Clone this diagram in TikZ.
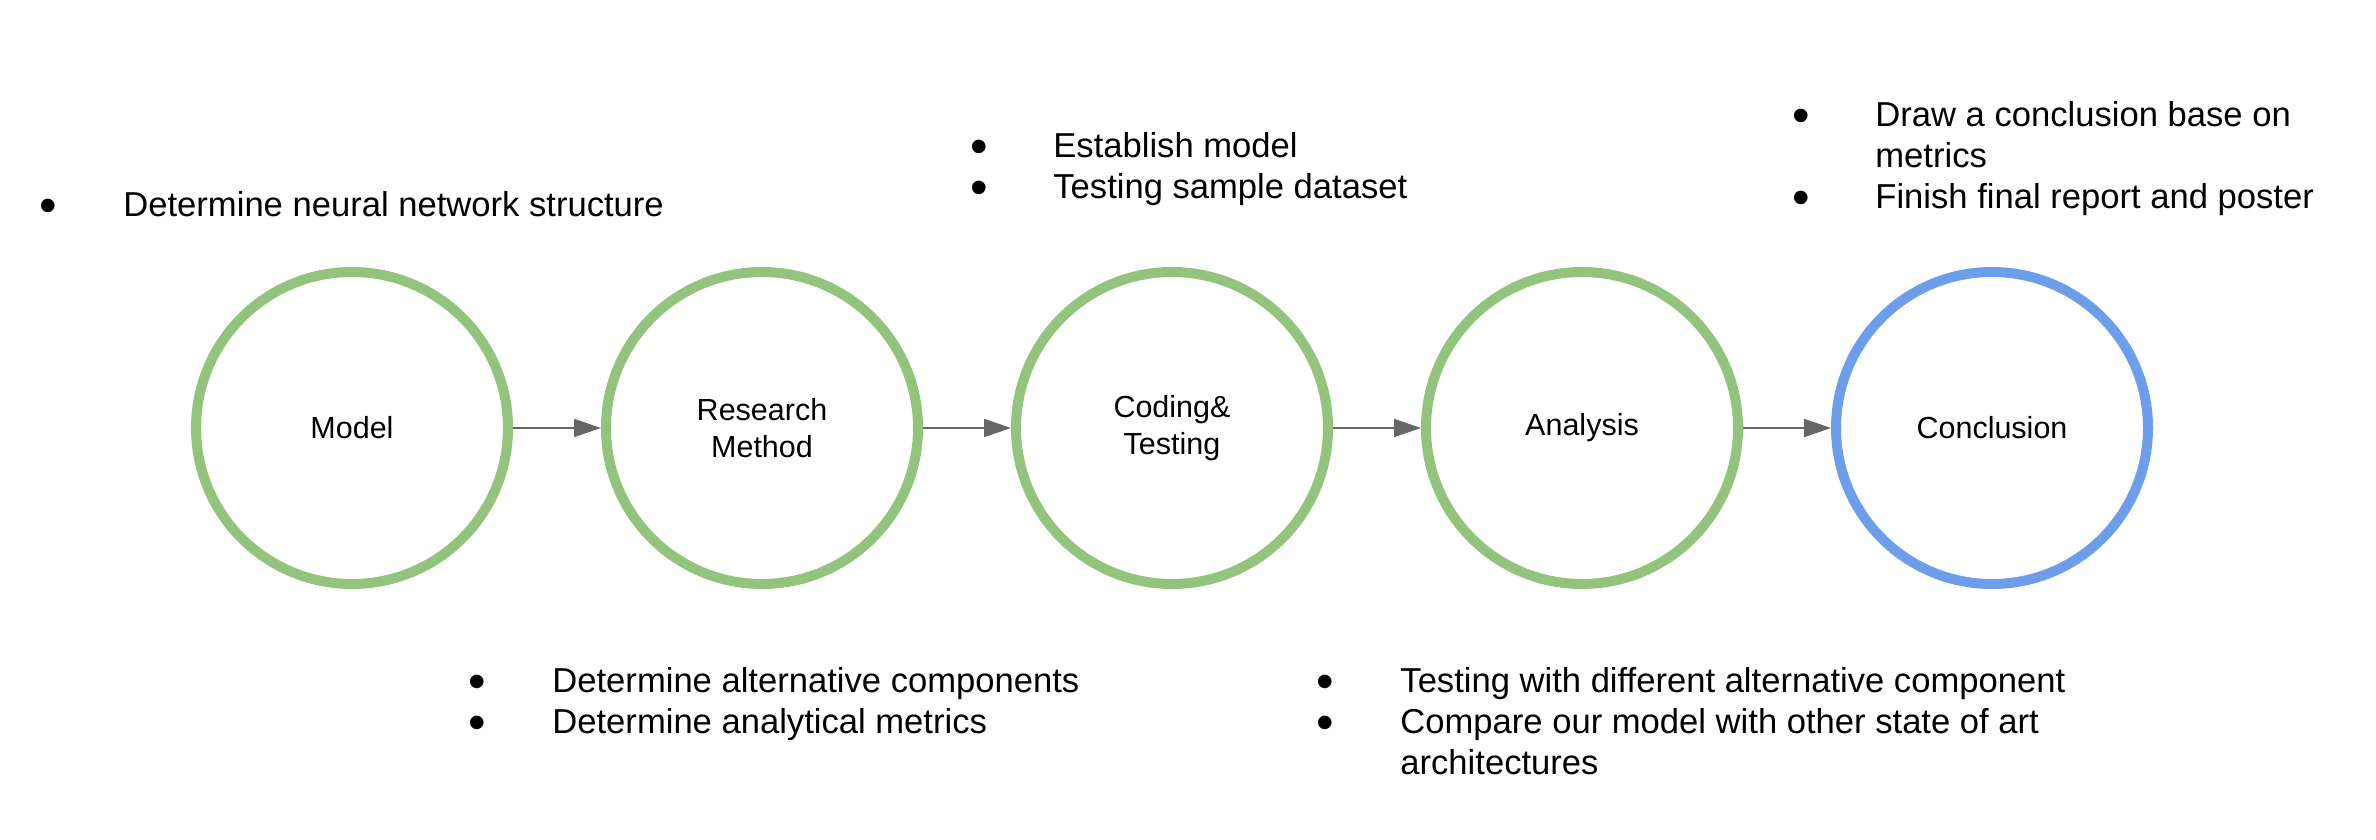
\documentclass[tikz,border=0pt]{standalone}
\usepackage{fontspec}
\setmainfont{Liberation Sans}
\usetikzlibrary{arrows.meta,positioning}
\definecolor{stagegreen}{HTML}{93C47D}
\definecolor{stageblue}{HTML}{6D9EEB}
\definecolor{arrgray}{HTML}{666666}
\newcommand{\bul}{\makebox[0pt]{\smash{\fontsize{25}{25}\selectfont\raisebox{-2.8pt}{\textbullet}}}}

\begin{document}
\begin{tikzpicture}[
  x=0.5pt,y=0.5pt,
  stage/.style={circle,draw=stagegreen,line width=5pt,minimum size=156pt,inner sep=0pt,align=center,font=\fontsize{15.25}{18.5}\selectfont},
  note/.style={anchor=base west,inner sep=0pt,font=\fontsize{17.3}{20.5}\selectfont},
  arr/.style={-{Triangle[length=13.5pt,width=9pt]},line width=1pt,draw=arrgray}
]
\useasboundingbox (0,0) rectangle (2376,840);
\node[stage] (model) at (352,412) {Model};
\node[stage, right=44pt of model] (research) {Research\\Method};
\node[stage, right=44pt of research] (coding) {Coding\&\\Testing};
\node[stage, right=44pt of coding] (analysis) {Analysis};
\node[stage, draw=stageblue, right=44pt of analysis] (conclusion) {Conclusion};
\draw[arr] (model)--(research);
\draw[arr] (research)--(coding);
\draw[arr] (coding)--(analysis);
\draw[arr] (analysis)--(conclusion);
% notes above and below the stages
\node[note] (modelnote) at (48,623) {\begin{tabular}[t]{@{}l@{\hspace{37.5pt}}l@{}}
  \bul & Determine neural network structure\end{tabular}};
\node[note] (codingnote) at (979,682) {\begin{tabular}[t]{@{}l@{\hspace{37pt}}l@{}}
  \bul & Establish model\\ \bul & Testing sample dataset\end{tabular}};
\node[note] (conclusionnote) at (1801,713) {\begin{tabular}[t]{@{}l@{\hspace{37pt}}l@{}}
  \bul & Draw a conclusion base on\\ & metrics\\ \bul & Finish final report and poster\end{tabular}};
\node[note] (researchnote) at (477,147) {\begin{tabular}[t]{@{}l@{\hspace{37.5pt}}l@{}}
  \bul & Determine alternative components\\ \bul & Determine analytical metrics\end{tabular}};
\node[note] (analysisnote) at (1325,147) {\begin{tabular}[t]{@{}l@{\hspace{37.5pt}}l@{}}
  \bul & Testing with different alternative component\\ \bul & Compare our model with other state of art\\ & architectures\end{tabular}};
\end{tikzpicture}
\end{document}
